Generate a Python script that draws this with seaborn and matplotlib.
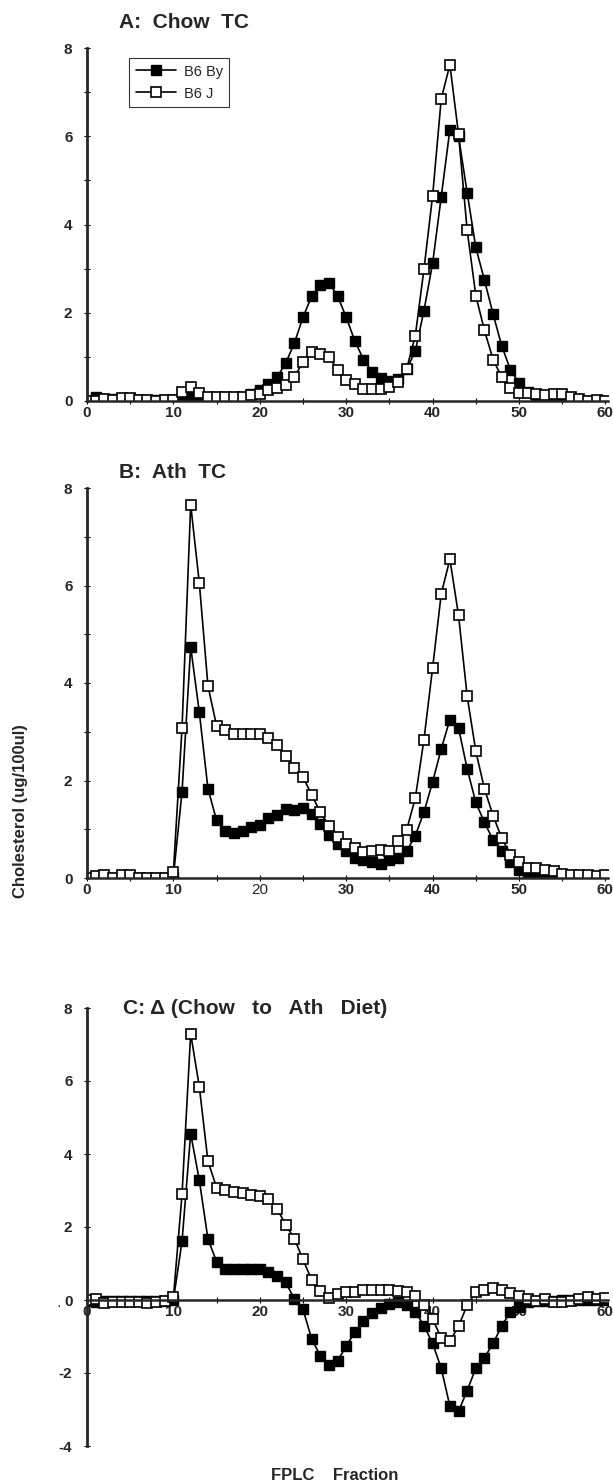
import numpy as np
import pandas as pd
import seaborn as sns
import matplotlib.pyplot as plt
from matplotlib.ticker import MultipleLocator

sns.set_style('ticks')
plt.rcParams['font.family'] = ['Liberation Sans', 'DejaVu Sans']
plt.rcParams['axes.unicode_minus'] = False

fractions = list(range(61))

# panel A: chow diet total cholesterol
chow_by = [0.0, 0.08, 0.04, 0.04, 0.04, 0.04, 0.03, 0.03, 0.02, 0.03, 0.03,
           0.05, 0.12, 0.05, 0.05, 0.05, 0.05, 0.06, 0.08, 0.15, 0.25,
           0.38, 0.54, 0.86, 1.31, 1.9, 2.37, 2.64, 2.68, 2.38, 1.9,
           1.36, 0.94, 0.66, 0.52, 0.46, 0.5, 0.72, 1.13, 2.05, 3.12,
           4.63, 6.15, 6.0, 4.72, 3.48, 2.74, 1.97, 1.25, 0.71, 0.41,
           0.2, 0.12, 0.1, 0.08, 0.05, 0.03, 0.02, 0.01, 0.01, 0.0]
chow_j = [0.0, 0.0, 0.05, 0.03, 0.06, 0.06, 0.03, 0.03, 0.0, 0.03, 0.03,
          0.2, 0.31, 0.19, 0.1, 0.08, 0.08, 0.08, 0.08, 0.14, 0.16,
          0.24, 0.29, 0.37, 0.54, 0.89, 1.12, 1.07, 1.0, 0.71, 0.48,
          0.38, 0.28, 0.28, 0.28, 0.31, 0.44, 0.73, 1.48, 2.99, 4.65,
          6.85, 7.62, 6.05, 3.87, 2.39, 1.6, 0.94, 0.54, 0.29, 0.18,
          0.18, 0.16, 0.14, 0.15, 0.15, 0.1, 0.04, 0.0, 0.03, 0.0]

# panel B: atherogenic diet total cholesterol
ath_by = [0.0, 0.02, 0.02, 0.01, 0.02, 0.02, 0.01, 0.0, 0.0, 0.01, 0.03,
          1.77, 4.74, 3.4, 1.83, 1.18, 0.97, 0.92, 0.97, 1.04, 1.09,
          1.23, 1.3, 1.42, 1.4, 1.44, 1.32, 1.1, 0.89, 0.7, 0.56,
          0.42, 0.36, 0.32, 0.29, 0.36, 0.41, 0.55, 0.87, 1.35, 1.97,
          2.65, 3.25, 3.08, 2.24, 1.55, 1.14, 0.78, 0.56, 0.32, 0.17,
          0.12, 0.1, 0.05, 0.03, 0.02, 0.01, 0.01, 0.0, 0.0, 0.0]
ath_j = [0.0, 0.05, 0.06, 0.01, 0.06, 0.06, 0.01, 0.0, 0.0, 0.01, 0.13,
         3.08, 7.66, 6.05, 3.94, 3.12, 3.03, 2.95, 2.95, 2.95, 2.95,
         2.88, 2.72, 2.51, 2.26, 2.07, 1.71, 1.35, 1.06, 0.84, 0.7,
         0.62, 0.54, 0.56, 0.58, 0.56, 0.75, 0.99, 1.64, 2.84, 4.31,
         5.83, 6.54, 5.39, 3.73, 2.6, 1.83, 1.28, 0.82, 0.48, 0.32,
         0.2, 0.2, 0.17, 0.14, 0.08, 0.07, 0.07, 0.07, 0.05, 0.07]

# panel C: change from chow to ath diet
delta_by = [-0.03, -0.06, -0.03, -0.03, -0.03, -0.03, -0.03, -0.04, -0.03, -0.03, 0.0,
            1.61, 4.56, 3.28, 1.67, 1.05, 0.84, 0.84, 0.84, 0.84, 0.84,
            0.77, 0.66, 0.48, 0.03, -0.26, -1.06, -1.53, -1.78, -1.67, -1.26,
            -0.88, -0.58, -0.36, -0.23, -0.11, -0.05, -0.15, -0.32, -0.7, -1.19,
            -1.87, -2.91, -3.05, -2.48, -1.87, -1.58, -1.19, -0.71, -0.33, -0.2,
            -0.06, -0.02, -0.02, -0.02, -0.01, -0.01, 0.0, 0.0, 0.0, 0.0]
delta_j = [0.0, 0.03, -0.08, -0.05, -0.05, -0.05, -0.05, -0.09, -0.05, -0.02, 0.07,
           2.9, 7.3, 5.84, 3.8, 3.08, 3.02, 2.95, 2.93, 2.89, 2.86,
           2.76, 2.5, 2.06, 1.68, 1.11, 0.55, 0.25, 0.05, 0.16, 0.23,
           0.23, 0.28, 0.28, 0.28, 0.28, 0.25, 0.21, 0.12, -0.14, -0.52,
           -1.04, -1.13, -0.72, -0.14, 0.21, 0.28, 0.32, 0.28, 0.19, 0.1,
           0.03, -0.02, 0.03, -0.06, -0.06, -0.02, 0.03, 0.07, 0.03, 0.05]

panels = [
    ('A:  Chow  TC', chow_by, chow_j, (0, 8), 48, 401, 119, 23),
    ('B:  Ath  TC', ath_by, ath_j, (0, 8), 488, 878, 119, 473),
    ('C: \u0394 (Chow   to   Ath   Diet)', delta_by, delta_j, (-4, 8), 1008, 1446, 123, 1008),
]

W, H = 613, 1483
fig = plt.figure(figsize=(W / 100, H / 100), dpi=100)
left, right = 87, 608

axes = []
for i, (title, by, j, ylim, top_px, bot_px, tx, ty) in enumerate(panels):
    ax = fig.add_axes([left / W, (H - bot_px) / H, (right - left) / W, (bot_px - top_px) / H])
    sns.lineplot(x=fractions, y=by, ax=ax, color='black', linewidth=1.2,
                 marker='s', markersize=6.8, markerfacecolor='black',
                 markeredgecolor='black', markeredgewidth=1.0, label='B6 By')
    sns.lineplot(x=fractions, y=j, ax=ax, color='black', linewidth=1.2,
                 marker='s', markersize=6.8, markerfacecolor='white',
                 markeredgecolor='black', markeredgewidth=1.2, label='B6 J')
    ax.set_xlim(0, 60.3)
    ax.set_ylim(*ylim)
    ax.set_facecolor('none')
    for s in ['top', 'right']:
        ax.spines[s].set_visible(False)
    ax.spines['left'].set_linewidth(2.0)
    ax.spines['bottom'].set_linewidth(1.8)
    ax.spines['bottom'].set_position(('data', 0))
    ax.xaxis.set_major_locator(MultipleLocator(10))
    ax.xaxis.set_minor_locator(MultipleLocator(5))
    ax.yaxis.set_major_locator(MultipleLocator(2))
    if i < 2:
        ax.yaxis.set_minor_locator(MultipleLocator(1))
    ax.tick_params(axis='both', which='both', direction='inout', color='black', width=0.8)
    ax.tick_params(axis='x', which='major', length=5, pad=1, labelsize=11)
    ax.tick_params(axis='x', which='minor', length=4)
    ax.tick_params(axis='y', which='major', length=5, pad=8, labelsize=11)
    ax.tick_params(axis='y', which='minor', length=4)
    for lab in ax.get_xticklabels() + ax.get_yticklabels():
        lab.set_fontweight('bold')
    ax.set_xlabel('')
    ax.set_ylabel('')
    ax.grid(False)
    ax.get_legend().remove()
    fig.text(tx / W, 1 - ty / H, title, fontsize=15, fontweight='bold',
             ha='left', va='center')
    axes.append(ax)

# the "20" label in panel B is set in a lighter face
for lab in axes[1].get_xticklabels():
    if lab.get_text() == '20':
        lab.set_fontweight('normal')

handles = axes[0].get_lines()[:2]
leg = fig.legend(handles, ['B6 By', 'B6 J'], loc='upper left',
                 bbox_to_anchor=(129 / W, 1 - 58 / H), bbox_transform=fig.transFigure,
                 fontsize=10.5, frameon=True, fancybox=False, edgecolor='black',
                 handlelength=2.8, handletextpad=0.5, labelspacing=0.55,
                 borderpad=0.45, borderaxespad=0)
leg.get_frame().set_linewidth(0.8)

fig.text(21 / W, 1 - 811 / H, 'Cholesterol (ug/100ul)', rotation=90,
         fontsize=12, fontweight='bold', ha='center', va='center')
fig.text(335 / W, 1 - 1475 / H, 'FPLC    Fraction', fontsize=12,
         fontweight='bold', ha='center', va='center')
fig.text(59 / W, 1 - 1306 / H, '\u00b7', fontsize=10, ha='center', va='center')

fig.savefig('out.png', dpi=100)
